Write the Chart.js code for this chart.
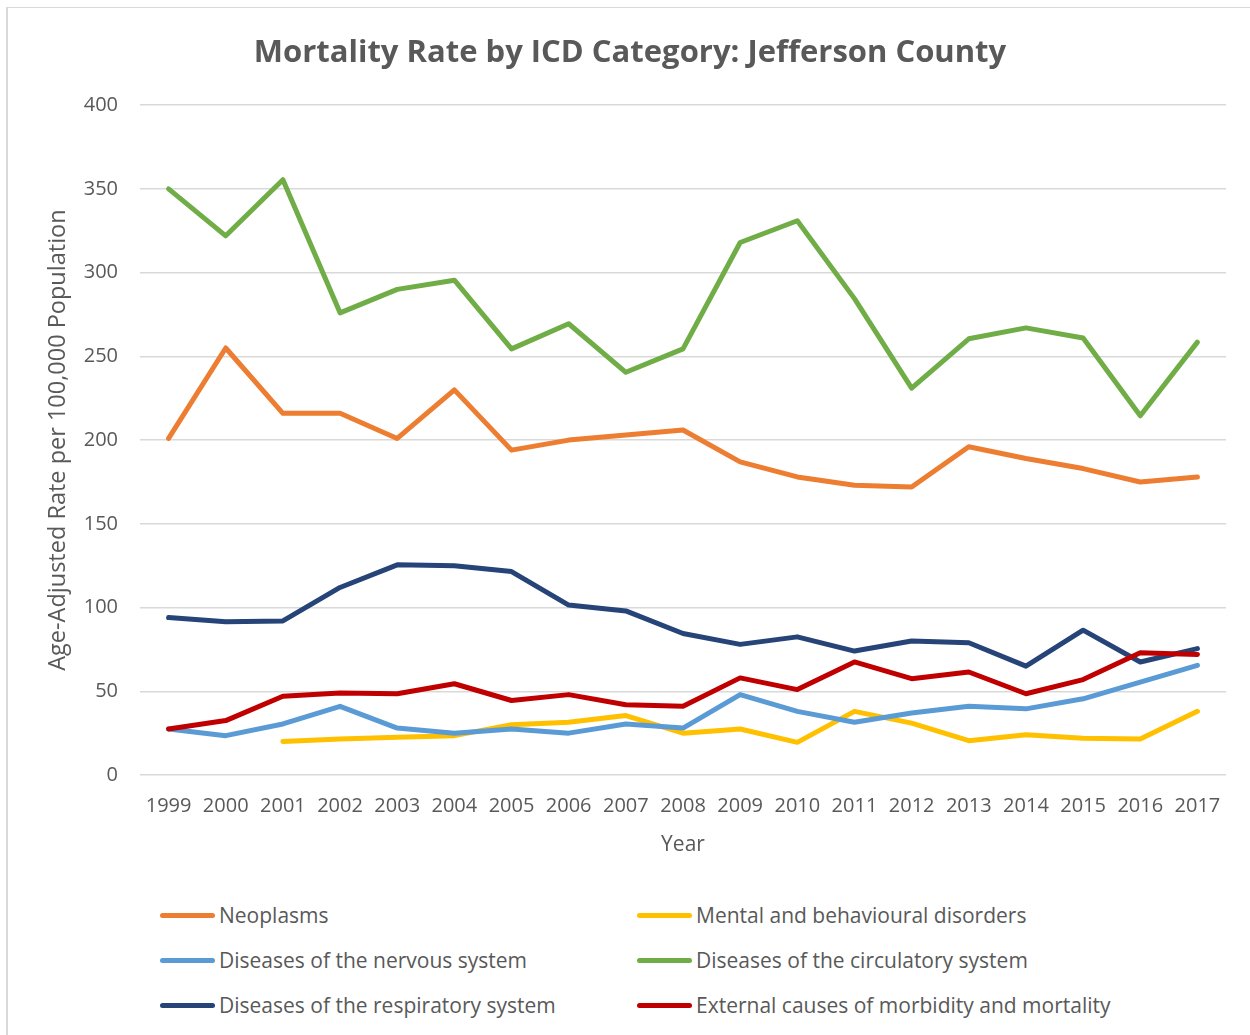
<!DOCTYPE html>
<html>
<head>
<meta charset="utf-8">
<script src="https://cdn.jsdelivr.net/npm/chart.js@4/dist/chart.umd.min.js"></script>
<style>
    body { margin: 0; background: #fff; }
    #wrap { position: relative; width: 1250px; height: 1035px; overflow: hidden; }
    #frame { position: absolute; left: 6px; top: 7px; right: -5px; bottom: -5px; border-left: 2px solid #d9d9d9; border-top: 1px solid #d9d9d9; }
    #box { position: absolute; left: 0; top: 0; width: 1250px; height: 870px; }
    .item { position: absolute; display: flex; align-items: center; font-family: 'Open Sans', sans-serif; font-size: 21px; color: #595959; }
    .swatch { width: 55px; height: 5px; border-radius: 3px; margin-right: 4px; }
</style>
</head>
<body>
<div id="wrap">
    <div id="frame"></div>
    <div id="box"><canvas id="grafica" width="1250" height="870"></canvas></div>
    <div id="leyenda"></div>
</div>
<script>
const years = ['1999', '2000', '2001', '2002', '2003', '2004', '2005', '2006', '2007', '2008',
    '2009', '2010', '2011', '2012', '2013', '2014', '2015', '2016', '2017'];

const neoplasms   = [201, 255, 216, 216, 201, 230, 194, 200, 203, 206, 187, 178, 173, 172, 196, 189, 183, 175, 178];
const mental      = [null, null, 20, 21.5, 22.5, 23.5, 30, 31.5, 35.5, 25, 27.5, 19.5, 38, 31, 20.5, 24, 22, 21.5, 38];
const nervous     = [27.5, 23.5, 30.5, 41, 28, 25, 27.5, 25, 30.5, 28, 48, 38, 31.5, 37, 41, 39.5, 45.5, 55.5, 65.5];
const circulatory = [350, 322, 355.5, 276, 290, 295.5, 254.5, 269.5, 240.5, 254.5, 318, 331, 284.5, 231, 260.5, 267, 261, 214.5, 258.5];
const respiratory = [94, 91.5, 92, 112, 125.5, 125, 121.5, 101.5, 98, 84.5, 78, 82.5, 74, 80, 79, 65, 86.5, 67.5, 75.5];
const external    = [27.5, 32.5, 47, 49, 48.5, 54.5, 44.5, 48, 42, 41, 58, 51, 67.5, 57.5, 61.5, 48.5, 57, 73, 72];

const series = [
    { label: 'Neoplasms', data: neoplasms, color: '#ED7D31' },
    { label: 'Mental and behavioural disorders', data: mental, color: '#FFC000' },
    { label: 'Diseases of the nervous system', data: nervous, color: '#5B9BD5' },
    { label: 'Diseases of the circulatory system', data: circulatory, color: '#70AD47' },
    { label: 'Diseases of the respiratory system', data: respiratory, color: '#264478' },
    { label: 'External causes of morbidity and mortality', data: external, color: '#C00000' }
];

const textColor = '#595959';
const fontFamily = "'Open Sans', sans-serif";

const ctx = document.getElementById('grafica').getContext('2d');
const chart = new Chart(ctx, {
    type: 'line',
    data: {
        labels: years,
        datasets: series.map(function (s, i) {
            return {
                label: s.label,
                data: s.data,
                borderColor: s.color,
                backgroundColor: s.color,
                borderWidth: 5,
                pointRadius: 0,
                tension: 0,
                fill: false,
                borderCapStyle: 'round',
                borderJoinStyle: 'round',
                order: series.length - i
            };
        })
    },
    options: {
        responsive: false,
        animation: false,
        devicePixelRatio: 1,
        layout: { padding: { left: 34, right: 24, top: 0, bottom: 0 } },
        plugins: {
            legend: { display: false },
            tooltip: { enabled: false },
            title: {
                display: true,
                text: 'Mortality Rate by ICD Category: Jefferson County',
                color: textColor,
                font: { family: fontFamily, size: 31, weight: 'bold' },
                padding: { top: 35, bottom: 33 }
            }
        },
        scales: {
            x: {
                offset: true,
                grid: { display: false },
                border: { display: false },
                ticks: { color: textColor, font: { family: fontFamily, size: 20 }, padding: 11, maxRotation: 0, autoSkip: false },
                title: { display: true, text: 'Year', color: textColor, font: { family: fontFamily, size: 21 }, padding: { top: 0, bottom: 12 } },
                afterFit: function (scale) { scale.height = 95; }
            },
            y: {
                min: 0,
                max: 400,
                ticks: { stepSize: 50, color: textColor, font: { family: fontFamily, size: 20 }, padding: 22 },
                grid: { color: '#d9d9d9', lineWidth: 1.5, drawTicks: false },
                border: { display: false },
                title: { display: true, text: 'Age-Adjusted Rate per 100,000 Population', color: textColor, font: { family: fontFamily, size: 23.5 }, padding: { top: 10, bottom: 0 } },
                afterFit: function (scale) { scale.width = 106; }
            }
        }
    }
});

// leyenda en dos columnas, como en la hoja original
const leyenda = document.getElementById('leyenda');
const colX = [160, 637];
const rowY = [916, 961, 1006];
chart.data.datasets.forEach(function (ds, i) {
    const item = document.createElement('div');
    item.className = 'item';
    item.style.left = colX[i % 2] + 'px';
    item.style.top = (rowY[Math.floor(i / 2)] - 14) + 'px';
    item.style.height = '26px';
    const sw = document.createElement('div');
    sw.className = 'swatch';
    sw.style.background = ds.borderColor;
    const txt = document.createElement('span');
    txt.textContent = ds.label;
    item.appendChild(sw);
    item.appendChild(txt);
    leyenda.appendChild(item);
});
</script>
</body>
</html>
